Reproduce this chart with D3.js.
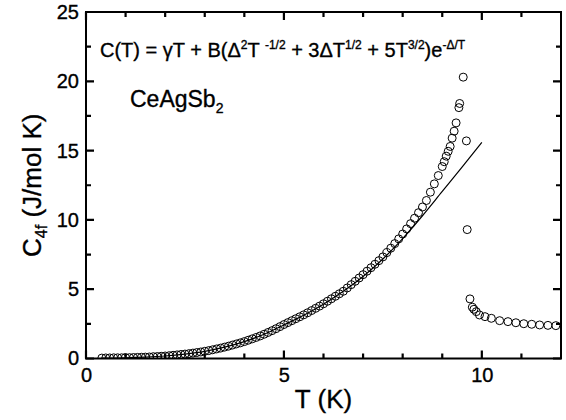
<!DOCTYPE html>
<html>
<head>
<meta charset="utf-8">
<script src="https://cdn.jsdelivr.net/npm/d3@7/dist/d3.min.js"></script>
<style>
  html, body { margin: 0; padding: 0; background: #fff; }
  svg { display: block; }
  text { font-family: "Liberation Sans", Arial, Helvetica, sans-serif; fill: #000; stroke: #000; stroke-width: 0.35px; }
</style>
</head>
<body>
<div id="chart"></div>
<script>
// ---- data ----
const tempK = [
  0.4, 0.5, 0.6, 0.7, 0.8, 0.9, 1.0, 1.1, 1.2, 1.3, 1.4, 1.5, 1.6, 1.7, 1.8, 1.9,
  2.0, 2.1, 2.2, 2.3, 2.4, 2.5, 2.6, 2.7, 2.8, 2.9, 3.0, 3.1, 3.2, 3.3, 3.4, 3.5,
  3.6, 3.7, 3.8, 3.9, 4.0, 4.1, 4.2, 4.3, 4.4, 4.5, 4.6, 4.7, 4.8, 4.9, 5.0, 5.1,
  5.2, 5.3, 5.4, 5.5, 5.6, 5.7, 5.8, 5.9, 6.0, 6.1, 6.2, 6.3, 6.4, 6.5, 6.6, 6.7,
  6.8, 6.9, 7.0, 7.1, 7.2, 7.3, 7.4, 7.5, 7.6, 7.7, 7.8, 7.9, 8.0, 8.1, 8.2, 8.3,
  8.4, 8.5, 8.6, 8.7, 8.8, 8.9, 9.0, 9.05, 9.1, 9.15, 9.2, 9.25, 9.3, 9.35, 9.42,
  9.44, 9.53, 9.61, 9.63, 9.70, 9.76, 9.80, 9.86, 9.94, 10.08, 10.24, 10.45, 10.66,
  10.86, 11.06, 11.26, 11.46, 11.67, 11.87
];
const c4f = [
  0.03, 0.04, 0.04, 0.05, 0.05, 0.05, 0.06, 0.06, 0.07, 0.08, 0.09, 0.10, 0.11, 0.13, 0.14, 0.16,
  0.18, 0.20, 0.23, 0.26, 0.29, 0.32, 0.35, 0.39, 0.43, 0.47, 0.52, 0.57, 0.63, 0.69, 0.75, 0.82,
  0.89, 0.97, 1.05, 1.13, 1.22, 1.32, 1.42, 1.52, 1.63, 1.75, 1.88, 2.01, 2.15, 2.30, 2.45, 2.59,
  2.73, 2.87, 3.01, 3.15, 3.30, 3.46, 3.62, 3.78, 3.95, 4.13, 4.31, 4.49, 4.67, 4.85, 5.09, 5.33,
  5.57, 5.81, 6.05, 6.30, 6.55, 6.80, 7.06, 7.33, 7.64, 7.96, 8.29, 8.63, 8.98, 9.35, 9.73, 10.12,
  10.52, 10.93, 11.40, 12.00, 12.60, 13.20, 13.85, 14.20, 14.60, 14.95, 15.30, 15.90, 16.40, 17.00, 18.10,
  18.40, 20.30, 15.70, 9.30, 4.30, 3.70, 3.55, 3.38, 3.14, 3.02, 2.90, 2.73, 2.66,
  2.58, 2.51, 2.47, 2.42, 2.39, 2.37
];
const fitT = [0.4, 1.0, 1.5, 2.0, 2.5, 3.0, 3.5, 4.0, 4.5, 5.0, 5.5, 6.0, 6.5, 7.0, 7.5, 8.0, 8.5, 9.0, 9.5, 10.0];
const fitC = [0.02, 0.05, 0.10, 0.18, 0.32, 0.52, 0.82, 1.22, 1.75, 2.42, 3.12, 3.92, 4.85, 5.92, 7.18, 8.65, 10.30, 12.05, 13.80, 15.60];

const xMajorTicks = [0, 5, 10];
const xMinorTicks = [1, 2, 3, 4, 6, 7, 8, 9, 11];
const yMajorTicks = [0, 5, 10, 15, 20, 25];
const yMinorTicks = [2.5, 7.5, 12.5, 17.5, 22.5];

// ---- layout ----
const W = 566, H = 420;
const L = 86, R = 561, TOPY = 12, B = 358.5;
const MAJ = 8, MIN = 5;

const svg = d3.select("#chart").append("svg").attr("width", W).attr("height", H);

const x = d3.scaleLinear().domain([0, 12]).range([L, R]);
const y = d3.scaleLinear().domain([0, 25]).range([B, TOPY]);

svg.append("defs").append("clipPath").attr("id", "plotclip")
  .append("rect").attr("x", L).attr("y", TOPY).attr("width", R - L).attr("height", B - TOPY);

const plot = svg.append("g").attr("clip-path", "url(#plotclip)");

// data markers
const pts = tempK.map((t, i) => ({ t: t, c: c4f[i] }));
plot.selectAll("circle.pt").data(pts).enter().append("circle")
  .attr("class", "pt")
  .attr("cx", d => x(d.t)).attr("cy", d => y(d.c)).attr("r", 4)
  .attr("fill", "none").attr("stroke", "#000").attr("stroke-width", 1);

// fit line
const fit = fitT.map((t, i) => ({ t: t, c: fitC[i] }));
plot.append("path").datum(fit)
  .attr("d", d3.line().x(d => x(d.t)).y(d => y(d.c)).curve(d3.curveMonotoneX))
  .attr("fill", "none").attr("stroke", "#000").attr("stroke-width", 1.2);

// axis labels via d3 axes
const fs = 20;
const axBottom = svg.append("g").attr("transform", `translate(0,${B})`)
  .call(d3.axisBottom(x).tickValues(xMajorTicks).tickSize(0).tickPadding(9).tickFormat(d3.format("d")));
axBottom.select(".domain").remove();
axBottom.selectAll(".tick text").attr("font-size", fs).attr("font-family", "Liberation Sans, Arial, sans-serif");

const axLeft = svg.append("g").attr("transform", `translate(${L},0)`)
  .call(d3.axisLeft(y).tickValues(yMajorTicks).tickSize(0).tickPadding(7).tickFormat(d3.format("d")));
axLeft.select(".domain").remove();
axLeft.selectAll(".tick text").attr("font-size", fs).attr("font-family", "Liberation Sans, Arial, sans-serif");

// frame
svg.append("rect").attr("x", L).attr("y", TOPY).attr("width", R - L).attr("height", B - TOPY)
  .attr("fill", "none").attr("stroke", "#000").attr("stroke-width", 2);

// inward tick marks on all four sides
const tickPath = d3.path();
xMajorTicks.forEach(v => { tickPath.moveTo(x(v), B); tickPath.lineTo(x(v), B - MAJ); tickPath.moveTo(x(v), TOPY); tickPath.lineTo(x(v), TOPY + MAJ); });
xMinorTicks.forEach(v => { tickPath.moveTo(x(v), B); tickPath.lineTo(x(v), B - MIN); tickPath.moveTo(x(v), TOPY); tickPath.lineTo(x(v), TOPY + MIN); });
yMajorTicks.forEach(v => { tickPath.moveTo(L, y(v)); tickPath.lineTo(L + MAJ, y(v)); tickPath.moveTo(R, y(v)); tickPath.lineTo(R - MAJ, y(v)); });
yMinorTicks.forEach(v => { tickPath.moveTo(L, y(v)); tickPath.lineTo(L + MIN, y(v)); tickPath.moveTo(R, y(v)); tickPath.lineTo(R - MIN, y(v)); });
svg.append("path").attr("d", tickPath.toString())
  .attr("fill", "none").attr("stroke", "#000").attr("stroke-width", 2.2);

// axis titles
svg.append("text").attr("x", (L + R) / 2).attr("y", 408)
  .attr("text-anchor", "middle").attr("font-size", 26).text("T (K)");

const yt = svg.append("text").attr("transform", `translate(41,${(TOPY + B) / 2}) rotate(-90)`)
  .attr("text-anchor", "middle").attr("font-size", 26);
yt.append("tspan").text("C");
yt.append("tspan").attr("font-size", 16).attr("dy", 6).text("4f");
yt.append("tspan").attr("dy", -6).text(" (J/mol K)");

// formula
const f = svg.append("text").attr("x", 100).attr("y", 56.5).attr("font-size", 20);
f.append("tspan").text("C(T) = \u03B3T + B(\u0394");
f.append("tspan").attr("font-size", 12).attr("dy", -8).text("2");
f.append("tspan").attr("dy", 8).text("T ");
f.append("tspan").attr("font-size", 12).attr("dy", -8).text("-1/2");
f.append("tspan").attr("dy", 8).text(" + 3\u0394T");
f.append("tspan").attr("font-size", 12).attr("dy", -8).text("1/2");
f.append("tspan").attr("dy", 8).text(" + 5T");
f.append("tspan").attr("font-size", 12).attr("dy", -8).text("3/2");
f.append("tspan").attr("dy", 8).text(")e");
f.append("tspan").attr("font-size", 12).attr("dy", -8).text("-\u0394/T");

// compound label
const cl = svg.append("text").attr("x", 130).attr("y", 107).attr("font-size", 23);
cl.append("tspan").text("CeAgSb");
cl.append("tspan").attr("font-size", 14).attr("dy", 6).text("2");
</script>
</body>
</html>
